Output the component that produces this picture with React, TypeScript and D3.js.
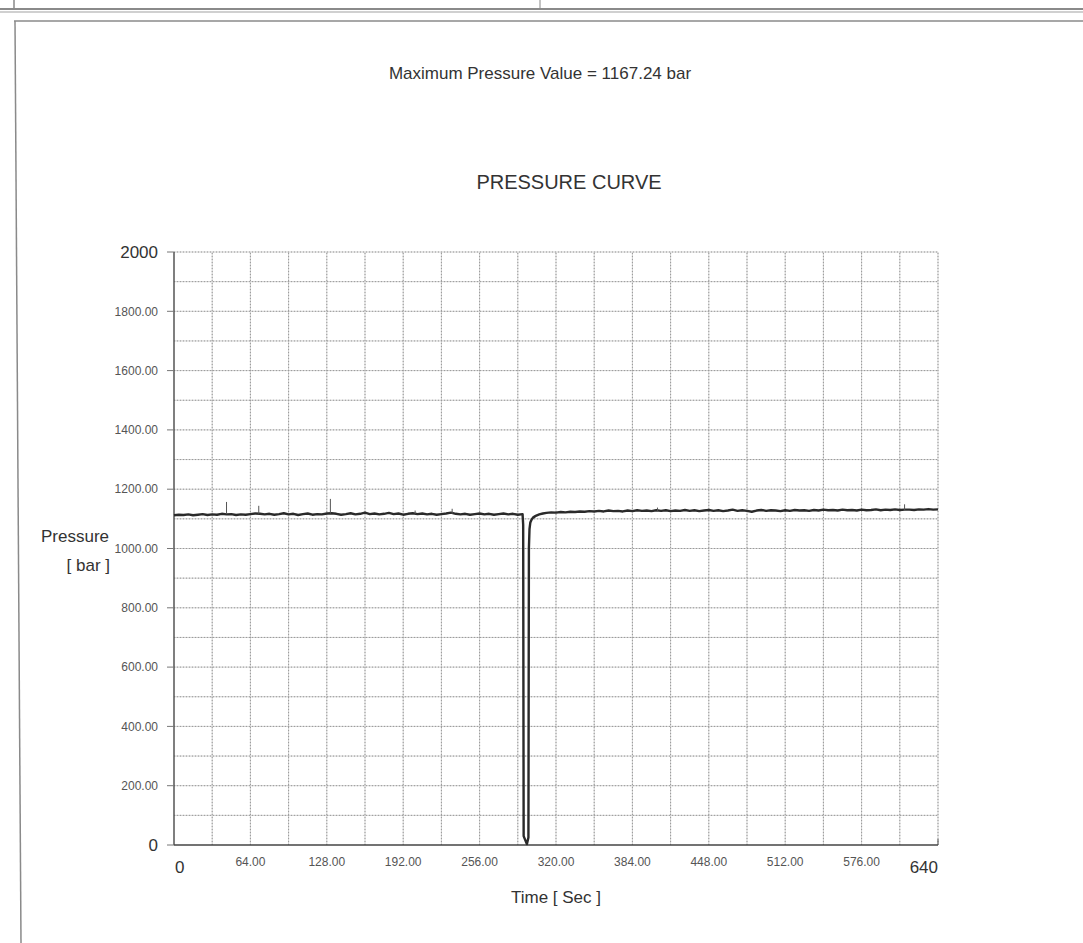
import { useEffect, useRef } from 'react';
import * as d3 from 'd3';

// sampled every 4 s from 0 to 292 s
const preDipTimes = d3.range(0, 296, 4);
const preDipPressure = [
  1112, 1114, 1113, 1115, 1112, 1114, 1116, 1113, 1115, 1114,
  1117, 1115, 1116, 1113, 1115, 1114, 1116, 1118, 1117, 1115,
  1117, 1114, 1116, 1119, 1115, 1117, 1113, 1116, 1118, 1114,
  1116, 1115, 1118, 1119, 1117, 1114, 1116, 1119, 1115, 1117,
  1121, 1116, 1118, 1115, 1117, 1120, 1116, 1118, 1114, 1117,
  1119, 1116, 1118, 1115, 1117, 1114, 1116, 1118, 1121, 1117,
  1115, 1117, 1114, 1116, 1118, 1115, 1117, 1114, 1116, 1118,
  1115, 1117, 1114, 1116,
];

// the pressure drop and recovery
const dipTimes = [292.5, 292.9, 295.6, 296.9, 297.3, 297.8, 298.5, 299.6, 301, 303, 306, 309];
const dipPressure = [1080, 30, 3, 25, 1000, 1065, 1088, 1098, 1105, 1110, 1115, 1118];

// sampled every 4 s from 312 to 640 s
const postDipTimes = d3.range(312, 644, 4);
const postDipPressure = [
  1120, 1122, 1121, 1123, 1122, 1124, 1123, 1125, 1124, 1126,
  1125, 1127, 1125, 1128, 1126, 1127, 1125, 1128, 1126, 1129,
  1127, 1128, 1126, 1129, 1127, 1129, 1126, 1128, 1127, 1130,
  1127, 1129, 1126, 1128, 1130, 1127, 1129, 1126, 1128, 1131,
  1127, 1129, 1127, 1124, 1128, 1130, 1127, 1129, 1128, 1126,
  1129, 1127, 1130, 1128, 1129, 1127, 1130, 1128, 1131, 1129,
  1130, 1128, 1131, 1129, 1130, 1128, 1131, 1129, 1130, 1132,
  1129, 1131, 1130, 1132, 1130, 1131, 1131, 1130, 1132, 1131,
  1133, 1131, 1132,
];

// short needle-like peaks
const spikeTimes = [44, 71, 131, 202, 233, 405, 612];
const spikeBase = [1116, 1117, 1118, 1117, 1117, 1127, 1130];
const spikePeak = [1157, 1144, 1167.24, 1128, 1134, 1138, 1149];

const yTicks = [0, 200, 400, 600, 800, 1000, 1200, 1400, 1600, 1800, 2000];
const xTicks = [0, 64, 128, 192, 256, 320, 384, 448, 512, 576, 640];

const FONT = '"Liberation Sans", Arial, sans-serif';

export default function App() {
  const svgRef = useRef(null);

  useEffect(() => {
    const svg = d3.select(svgRef.current);
    svg.selectAll('*').remove();

    const width = 1083;
    const height = 943;
    const margin = { left: 174, right: 145, top: 252, bottom: 98 };

    svg.append('rect').attr('width', width).attr('height', height).attr('fill', '#fff');

    // scanned page frame
    svg.append('line').attr('x1', 0).attr('x2', width).attr('y1', 9).attr('y2', 9)
      .attr('stroke', '#8a8a8a').attr('stroke-width', 2);
    svg.append('line').attr('x1', 0).attr('x2', width).attr('y1', 12).attr('y2', 12)
      .attr('stroke', '#d0d0d0').attr('stroke-width', 2);
    svg.append('line').attr('x1', 540).attr('x2', 540).attr('y1', 0).attr('y2', 9)
      .attr('stroke', '#888').attr('stroke-width', 1);
    svg.append('line').attr('x1', 14).attr('x2', 14).attr('y1', 0).attr('y2', 10)
      .attr('stroke', '#888').attr('stroke-width', 1.5);
    svg.append('line').attr('x1', 14).attr('x2', width).attr('y1', 21).attr('y2', 21)
      .attr('stroke', '#8a8a8a').attr('stroke-width', 1.5);
    svg.append('line').attr('x1', 15).attr('x2', 21).attr('y1', 21).attr('y2', height)
      .attr('stroke', '#8a8a8a').attr('stroke-width', 1.5);

    const x = d3.scaleLinear().domain([0, 640]).range([margin.left, width - margin.right]);
    const y = d3.scaleLinear().domain([0, 2000]).range([height - margin.bottom, margin.top]);

    // grid
    const grid = svg.append('g');
    const hLines = d3.range(100, 2100, 100);
    const vLines = d3.range(32, 672, 32);
    grid.selectAll('.hg').data(hLines).enter().append('line')
      .attr('x1', x(0)).attr('x2', x(640)).attr('y1', d => y(d)).attr('y2', d => y(d))
      .attr('stroke', '#cdcdcd').attr('stroke-width', 1);
    grid.selectAll('.vg').data(vLines).enter().append('line')
      .attr('y1', y(0)).attr('y2', y(2000)).attr('x1', d => x(d)).attr('x2', d => x(d))
      .attr('stroke', '#cdcdcd').attr('stroke-width', 1);
    grid.selectAll('.hd').data(hLines).enter().append('line')
      .attr('x1', x(0)).attr('x2', x(640)).attr('y1', d => y(d)).attr('y2', d => y(d))
      .attr('stroke', '#999').attr('stroke-width', 1).attr('stroke-dasharray', '1,2');
    grid.selectAll('.vd').data(vLines).enter().append('line')
      .attr('y1', y(0)).attr('y2', y(2000)).attr('x1', d => x(d)).attr('x2', d => x(d))
      .attr('stroke', '#999').attr('stroke-width', 1).attr('stroke-dasharray', '1,2');

    // axes
    svg.append('line').attr('x1', x(0)).attr('x2', x(0)).attr('y1', y(2000)).attr('y2', y(0))
      .attr('stroke', '#555').attr('stroke-width', 1.5);
    svg.append('line').attr('x1', x(0)).attr('x2', x(640)).attr('y1', y(0)).attr('y2', y(0))
      .attr('stroke', '#444').attr('stroke-width', 1.5);
    svg.append('line').attr('x1', x(640)).attr('x2', x(640)).attr('y1', y(0) - 6).attr('y2', y(0))
      .attr('stroke', '#555').attr('stroke-width', 1);

    // y ticks and labels
    const yg = svg.append('g');
    yg.selectAll('line').data(yTicks).enter().append('line')
      .attr('x1', x(0) - 7).attr('x2', x(0)).attr('y1', d => y(d)).attr('y2', d => y(d))
      .attr('stroke', '#777').attr('stroke-width', 1);
    yg.selectAll('text').data(yTicks).enter().append('text')
      .attr('x', 158)
      .attr('y', d => y(d))
      .attr('dy', '0.35em')
      .attr('text-anchor', 'end')
      .attr('font-family', FONT)
      .attr('font-size', d => (d === 0 || d === 2000 ? 17 : 12))
      .attr('fill', d => (d === 0 || d === 2000 ? '#333' : '#555'))
      .text(d => (d === 0 || d === 2000 ? String(d) : d.toFixed(2)));

    // x labels
    svg.append('g').selectAll('text').data(xTicks).enter().append('text')
      .attr('x', d => (d === 0 ? x(d) + 1 : x(d)))
      .attr('y', d => (d === 0 || d === 640 ? 867 : 862))
      .attr('dy', '0.35em')
      .attr('text-anchor', d => (d === 0 ? 'start' : d === 640 ? 'end' : 'middle'))
      .attr('font-family', FONT)
      .attr('font-size', d => (d === 0 || d === 640 ? 17 : 12))
      .attr('fill', d => (d === 0 || d === 640 ? '#333' : '#555'))
      .text(d => (d === 0 || d === 640 ? String(d) : d.toFixed(2)));

    // axis titles
    svg.append('text').attr('x', 556).attr('y', 897).attr('dy', '0.35em')
      .attr('text-anchor', 'middle').attr('font-family', FONT).attr('font-size', 17)
      .attr('fill', '#333').text('Time  [ Sec ]');
    svg.append('text').attr('x', 109).attr('y', 536).attr('dy', '0.35em')
      .attr('text-anchor', 'end').attr('font-family', FONT).attr('font-size', 17)
      .attr('fill', '#333').text('Pressure');
    svg.append('text').attr('x', 110).attr('y', 565).attr('dy', '0.35em')
      .attr('text-anchor', 'end').attr('font-family', FONT).attr('font-size', 17)
      .attr('fill', '#333').text('[ bar ]');

    // titles
    svg.append('text').attr('x', 540).attr('y', 73).attr('dy', '0.35em')
      .attr('text-anchor', 'middle').attr('font-family', FONT).attr('font-size', 17)
      .attr('fill', '#333').text('Maximum Pressure Value = 1167.24 bar');
    svg.append('text').attr('x', 569).attr('y', 182).attr('dy', '0.35em')
      .attr('text-anchor', 'middle').attr('font-family', FONT).attr('font-size', 20)
      .attr('fill', '#333').text('PRESSURE CURVE');

    // pressure curve
    const points = [
      ...preDipTimes.map((t, i) => [t, preDipPressure[i]]),
      ...dipTimes.map((t, i) => [t, dipPressure[i]]),
      ...postDipTimes.map((t, i) => [t, postDipPressure[i]]),
    ].filter(p => p[1] !== undefined);

    const line = d3.line().x(d => x(d[0])).y(d => y(d[1]));
    svg.append('path')
      .datum(points)
      .attr('d', line)
      .attr('fill', 'none')
      .attr('stroke', '#2a2a2a')
      .attr('stroke-width', 2.4)
      .attr('stroke-linejoin', 'round');

    svg.append('g').selectAll('line').data(spikeTimes).enter().append('line')
      .attr('x1', d => x(d)).attr('x2', d => x(d))
      .attr('y1', (d, i) => y(spikeBase[i]))
      .attr('y2', (d, i) => y(spikePeak[i]))
      .attr('stroke', '#555')
      .attr('stroke-width', 1);
  }, []);

  return (
    <svg
      ref={svgRef}
      width={1083}
      height={943}
      style={{ position: 'absolute', left: 0, top: 0, display: 'block' }}
    />
  );
}
